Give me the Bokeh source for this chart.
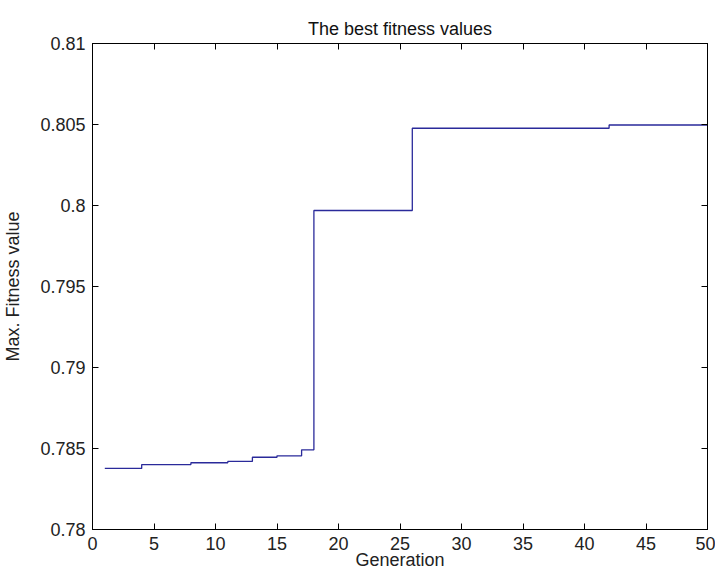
from bokeh.plotting import figure
from bokeh.models import LinearAxis, FixedTicker, Range1d
from bokeh.embed import file_html
from bokeh.resources import INLINE

# data
generation = list(range(1, 51))
best_fitness = [
    0.78377, 0.78377, 0.78377,
    0.78401, 0.78401, 0.78401, 0.78401,
    0.78412, 0.78412, 0.78412,
    0.78420, 0.78420,
    0.78446, 0.78446,
    0.78455, 0.78455,
    0.78492,
    0.79969, 0.79969, 0.79969, 0.79969, 0.79969, 0.79969, 0.79969, 0.79969,
    0.80477, 0.80477, 0.80477, 0.80477, 0.80477, 0.80477, 0.80477, 0.80477,
    0.80477, 0.80477, 0.80477, 0.80477, 0.80477, 0.80477, 0.80477, 0.80477,
    0.80497, 0.80497, 0.80497, 0.80497, 0.80497, 0.80497, 0.80497, 0.80497, 0.80497,
]
x_ticks = [0, 5, 10, 15, 20, 25, 30, 35, 40, 45, 50]
y_ticks = [0.78, 0.785, 0.79, 0.795, 0.8, 0.805, 0.81]
y_tick_labels = ["0.78", "0.785", "0.79", "0.795", "0.8", "0.805", "0.81"]

FONT = "Liberation Sans"
FS = "18px"

p = figure(width=715, height=576, output_backend="svg", toolbar_location=None,
           x_range=Range1d(0, 50), y_range=Range1d(0.78, 0.81),
           min_border_left=90, min_border_right=8, min_border_top=43, min_border_bottom=47,
           title="The best fitness values")
p.background_fill_color = "white"
p.border_fill_color = "white"
p.outline_line_color = "black"
p.outline_line_width = 1
p.grid.visible = False

p.title.align = "center"
p.title.text_font = FONT
p.title.text_font_size = FS
p.title.text_font_style = "normal"
p.title.text_color = "#111111"

p.step(generation, best_fitness, mode="after", line_color="#2a2a9a", line_width=1.3)

def style_axis(ax):
    ax.major_tick_in = 6
    ax.major_tick_out = 0
    ax.minor_tick_in = 0
    ax.minor_tick_out = 0
    ax.axis_line_color = "black"
    ax.major_tick_line_color = "black"
    ax.major_label_text_font = FONT
    ax.major_label_text_font_size = FS
    ax.major_label_text_color = "#222222"
    ax.axis_label_text_font = FONT
    ax.axis_label_text_font_size = FS
    ax.axis_label_text_font_style = "normal"
    ax.axis_label_text_color = "#222222"

xa = p.xaxis[0]
xa.ticker = FixedTicker(ticks=x_ticks)
xa.axis_label = "Generation"
style_axis(xa)
xa.major_label_standoff = 7
xa.axis_label_standoff = -3

ya = p.yaxis[0]
ya.ticker = FixedTicker(ticks=y_ticks)
ya.major_label_overrides = {t: s for t, s in zip(y_ticks, y_tick_labels)}
ya.axis_label = "Max. Fitness value"
style_axis(ya)
ya.major_label_standoff = 7
ya.axis_label_standoff = 14

# mirrored inward ticks on the top and right edges (no labels)
top = LinearAxis(ticker=FixedTicker(ticks=x_ticks))
style_axis(top)
top.major_label_overrides = {t: "" for t in x_ticks}
top.major_label_standoff = 0
p.add_layout(top, "above")
right = LinearAxis(ticker=FixedTicker(ticks=y_ticks))
style_axis(right)
right.major_label_overrides = {t: "" for t in y_ticks}
right.major_label_standoff = 0
p.add_layout(right, "right")

open("out.html", "w").write(file_html(p, INLINE))
